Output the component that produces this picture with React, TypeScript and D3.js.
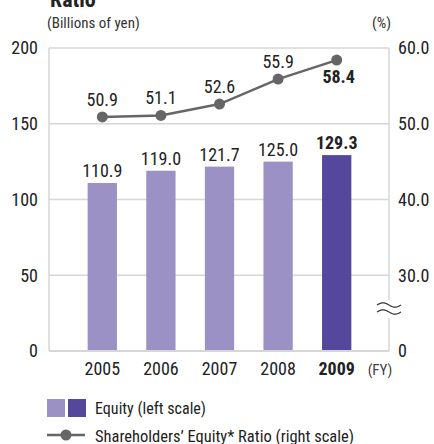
import React from "react";
import * as d3 from "d3";

const years = ["2005", "2006", "2007", "2008", "2009"];
const equity = [110.9, 119.0, 121.7, 125.0, 129.3];
const ratio = [50.9, 51.1, 52.6, 55.9, 58.4];
const leftTicks = [0, 50, 100, 150, 200];
const rightTicks = [20, 30, 40, 50, 60];
const rightTickLabels = ["0", "30.0", "40.0", "50.0", "60.0"];

const FONT = "'Liberation Sans Narrow', 'Roboto Condensed', 'Arial Narrow', Roboto, sans-serif";
const LIGHT = "#9b91c4";
const DARK = "#55479c";
const LINE = "#666666";
const GRID = "#d6d6d6";

export default function App() {
  const W = 434, H = 444;
  const left = 49, right = 389, top = 48, bottom = 351;
  const x = d3.scaleBand<string>().domain(years).range([73, 366]).paddingInner(0.5).paddingOuter(0.25);
  const yL = d3.scaleLinear().domain([0, 200]).range([bottom, top]);
  const yR = d3.scaleLinear().domain([20, 60]).range([bottom, top]);
  const line = d3.line<number>().x((_, i) => x(years[i])! + x.bandwidth() / 2).y((d) => yR(d));
  const last = years.length - 1;
  const wave = (cy: number) => {
    const pts: [number, number][] = d3.range(0, 25).map((i) => [377 + i, cy + 2.2 * Math.sin((i / 24) * Math.PI * 2 + Math.PI)]);
    return d3.line()(pts)!;
  };
  return (
    <svg width={W} height={H} style={{ position: "absolute", left: 0, top: 0, fontFamily: FONT }}>
      <text x={50} y={7} fontSize={22} fontWeight="bold" fill="#222">Ratio</text>
      <text x={47} y={28} fontSize={15} fill="#333">(Billions of yen)</text>
      <text x={391} y={28} fontSize={15} fill="#333" textAnchor="end">(%)</text>
      {leftTicks.filter((t) => t > 0).map((t) => (
        <line key={t} x1={left} x2={right} y1={yL(t)} y2={yL(t)} stroke={GRID} strokeWidth={1.5} />
      ))}
      <line x1={left} x2={left} y1={top} y2={bottom} stroke={GRID} strokeWidth={1.5} />
      <line x1={right} x2={right} y1={top} y2={bottom} stroke={GRID} strokeWidth={1.5} />
      {leftTicks.map((t) => (
        <text key={t} x={38} y={yL(t)} dy="0.35em" fontSize={18} fill="#222" textAnchor="end">{t}</text>
      ))}
      {rightTicks.map((t, i) => (
        <text key={t} x={398} y={yR(t)} dy="0.35em" fontSize={18} fill="#222">{rightTickLabels[i]}</text>
      ))}
      {equity.map((v, i) => (
        <rect key={i} x={x(years[i])} y={yL(v)} width={x.bandwidth()} height={bottom - yL(v)} fill={i === last ? DARK : LIGHT} />
      ))}
      {equity.map((v, i) => (
        <text key={i} x={x(years[i])! + x.bandwidth() / 2} y={yL(v) - 6} fontSize={18} fill="#222" textAnchor="middle" fontWeight={i === last ? "bold" : "normal"}>{v.toFixed(1)}</text>
      ))}
      <line x1={left} x2={right} y1={bottom} y2={bottom} stroke={GRID} strokeWidth={2} />
      <path d={line(ratio)!} fill="none" stroke={LINE} strokeWidth={2.5} />
      {ratio.map((v, i) => (
        <circle key={i} cx={x(years[i])! + x.bandwidth() / 2} cy={yR(v)} r={5.5} fill={LINE} />
      ))}
      {ratio.map((v, i) => (
        <text key={i} x={x(years[i])! + x.bandwidth() / 2 + (i === last ? 2 : 0)} y={i === last ? yR(v) + 23 : yR(v) - 11} fontSize={18} fill="#222" textAnchor="middle" fontWeight={i === last ? "bold" : "normal"}>{v.toFixed(1)}</text>
      ))}
      <rect x={377} y={300} width={25} height={18} fill="#fff" />
      <path d={wave(305)} fill="none" stroke="#333" strokeWidth={1.2} />
      <path d={wave(312)} fill="none" stroke="#333" strokeWidth={1.2} />
      {years.map((yv, i) => (
        <text key={yv} x={x(yv)! + x.bandwidth() / 2} y={375} fontSize={18} fill="#222" textAnchor="middle" fontWeight={i === last ? "bold" : "normal"}>{yv}</text>
      ))}
      <text x={380} y={375} fontSize={15} fill="#444" textAnchor="middle">(FY)</text>
      <rect x={47} y={399} width={18} height={18} fill={LIGHT} />
      <rect x={68} y={399} width={18} height={18} fill={DARK} />
      <text x={95} y={414} fontSize={17} fill="#222" textLength={111} lengthAdjust="spacingAndGlyphs">Equity (left scale)</text>
      <line x1={47} x2={85} y1={435} y2={435} stroke={LINE} strokeWidth={2.5} />
      <circle cx={66} cy={435} r={5.5} fill={LINE} />
      <text x={95} y={442} fontSize={17} fill="#222" textLength={259} lengthAdjust="spacingAndGlyphs">Shareholders’ Equity* Ratio (right scale)</text>
    </svg>
  );
}
